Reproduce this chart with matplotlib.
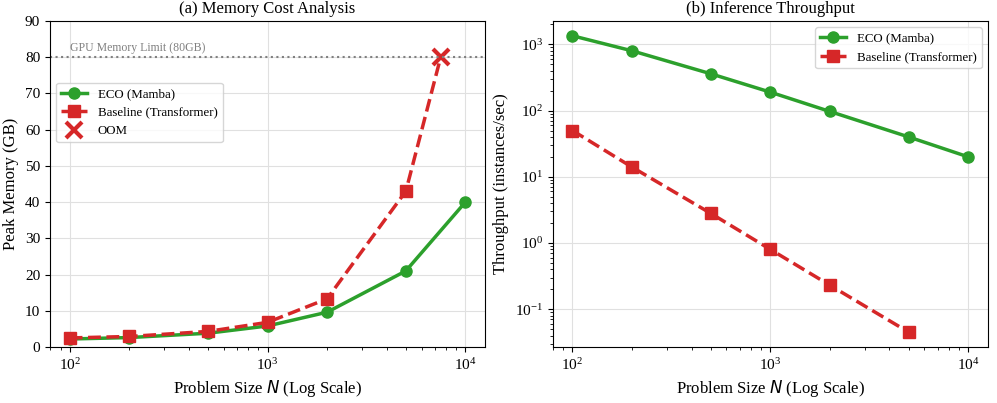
import numpy as np
import matplotlib
matplotlib.use("Agg")
import matplotlib.pyplot as plt

plt.rcParams['font.family'] = ['Liberation Serif', 'DejaVu Serif']
plt.rcParams['mathtext.fontset'] = 'dejavusans'

# problem sizes
sizes = [100, 200, 500, 1000, 2000, 5000, 10000]
sizes_base_mem = [100, 200, 500, 1000, 2000, 5000]
sizes_base_tp = [100, 200, 500, 1000, 2000, 5000]

# peak memory (GB)
eco_mem = [2.2, 2.6, 3.8, 5.8, 9.6, 21.0, 40.0]
base_mem = [2.5, 2.9, 4.3, 6.8, 13.3, 43.0]
oom_x = 7500
oom_y = 80
mem_limit = 80

# throughput (instances/sec)
eco_tp = [1350, 800, 360, 190, 97, 40, 20]
base_tp = [50, 14, 2.8, 0.8, 0.23, 0.045]

GREEN = "#2ca02c"
RED = "#d62728"

fig, (ax1, ax2) = plt.subplots(1, 2, figsize=(9.97, 4.03), dpi=100)
fig.subplots_adjust(left=0.05, right=0.991, top=0.948, bottom=0.139, wspace=0.155)

# (a) memory
ax1.plot(sizes, eco_mem, color=GREEN, marker="o", lw=2.5, ms=8, label="ECO (Mamba)")
ax1.plot(sizes_base_mem + [oom_x], base_mem + [oom_y], color=RED, marker="s", ls="--",
         lw=2.5, ms=8, markevery=list(range(len(base_mem))), label="Baseline (Transformer)")
ax1.plot([oom_x], [oom_y], color=RED, marker="x", ls="none", ms=12, mew=3, label="OOM")
ax1.axhline(mem_limit, color="gray", ls=":", lw=1.5)
ax1.text(100, mem_limit + 1.8, "GPU Memory Limit (80GB)", color="gray", fontsize=8.5)
ax1.set_xscale("log")
ax1.set_ylim(0, 90)
ax1.set_xlabel("Problem Size $N$ (Log Scale)", fontsize=12)
ax1.set_ylabel("Peak Memory (GB)", fontsize=12)
ax1.set_title("(a) Memory Cost Analysis", fontsize=12)
ax1.grid(True, color="#e0e0e0", lw=0.8)
ax1.legend(loc="upper left", bbox_to_anchor=(0.0, 0.83), fontsize=9.3)

# (b) throughput
ax2.plot(sizes, eco_tp, color=GREEN, marker="o", lw=2.5, ms=8, label="ECO (Mamba)")
ax2.plot(sizes_base_tp, base_tp, color=RED, marker="s", ls="--", lw=2.5, ms=8,
         label="Baseline (Transformer)")
ax2.set_xscale("log")
ax2.set_yscale("log")
ax2.set_xlabel("Problem Size $N$ (Log Scale)", fontsize=12)
ax2.set_ylabel("Throughput (instances/sec)", fontsize=12)
ax2.set_title("(b) Inference Throughput", fontsize=12)
ax2.grid(True, which="major", color="#e0e0e0", lw=0.8)
ax2.legend(loc="upper right", fontsize=9.3)

for ax in (ax1, ax2):
    ax.tick_params(labelsize=11)

plt.savefig("out.png", dpi=100)
